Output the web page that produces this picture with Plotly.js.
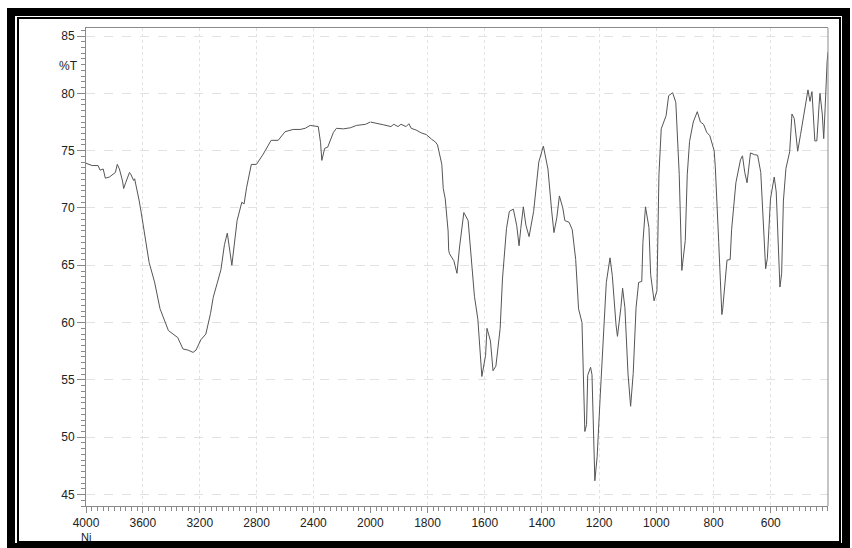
<!DOCTYPE html>
<html><head><meta charset="utf-8">
<script src="https://cdn.plot.ly/plotly-3.0.1.min.js"></script>
<style>
html,body{margin:0;padding:0;background:#fff;}
#wrap{position:relative;width:852px;height:548px;overflow:hidden;background:#fff;}
#chart{position:absolute;left:0;top:0;width:852px;height:548px;}
.frame{position:absolute;box-sizing:border-box;pointer-events:none;}
</style></head><body>
<div id="wrap"><div id="chart"></div>
<div class="frame" style="left:7px;top:8px;width:843px;height:540px;border:8px solid #000;border-bottom-width:5px;"></div>
<div class="frame" style="left:17px;top:17px;width:824px;height:526px;border:2px solid #000;"></div>
</div>
<script>
// High-wavenumber part (4000-2000 cm-1)
const wnHigh = [4000,3957,3915,3901,3879,3864,3835,3814,3793,3780,3765,3743,3735,3721,3694,3687,3665,3658,3643,3627,3611,3596,3580,3556,3518,3479,3420,3355,3318,3282,3247,3226,3192,3157,3124,3105,3078,3051,3026,3006,2974,2955,2937,2904,2888,2870,2837,2801,2753,2698,2648,2600,2543,2494,2458,2423,2366,2350,2341,2321,2300,2259,2238,2189,2139,2097,2033,2000];
const tHigh = [73.9,73.7,73.7,73.3,73.4,72.6,72.7,72.9,73.1,73.8,73.4,72.35,71.7,72.2,73.1,73.0,72.4,72.55,71.7,70.7,69.55,68.35,66.95,65.25,63.55,61.2,59.3,58.7,57.7,57.6,57.4,57.6,58.5,59.0,60.8,62.2,63.4,64.6,66.8,67.8,65.0,67.2,68.9,70.5,70.35,71.8,73.8,73.8,74.7,75.9,75.9,76.65,76.85,76.85,76.95,77.2,77.1,75.7,74.15,75.2,75.3,76.6,76.95,76.9,77.0,77.2,77.3,77.5];
// Low-wavenumber part (2000-400 cm-1)
const wnLow = [2000,1978,1953,1928,1918,1903,1893,1875,1865,1857,1840,1822,1804,1786,1772,1765,1750,1745,1738,1732,1728,1726,1723,1708,1697,1688,1676,1673,1658,1653,1636,1624,1610,1597,1592,1580,1571,1561,1546,1538,1524,1514,1500,1488,1480,1474,1465,1456,1445,1429,1420,1411,1395,1379,1366,1358,1348,1339,1327,1320,1305,1294,1282,1272,1260,1250,1244,1240,1230,1225,1215,1207,1196,1183,1175,1162,1154,1141,1136,1124,1118,1110,1099,1090,1081,1071,1062,1051,1047,1038,1026,1020,1008,998,991,983,966,957,943,932,920,911,899,892,884,871,857,846,835,824,813,798,794,782,771,768,756,753,742,737,722,706,699,691,683,677,671,657,646,635,629,618,612,601,588,581,568,562,556,547,534,526,518,506,496,490,480,470,463,456,446,439,431,428,420,415,410,406,403,400];
const tLow = [77.5,77.4,77.25,77.1,77.3,77.1,77.3,77.1,77.35,76.95,76.8,76.55,76.4,76.0,75.75,75.5,73.8,71.7,70.8,69.1,68.0,66.3,66.0,65.4,64.3,66.6,69.2,69.6,68.9,67.2,62.3,60.3,55.3,57.15,59.5,58.4,55.8,56.2,59.5,63.8,68.2,69.7,69.9,68.45,66.7,68.2,70.1,68.5,67.5,69.7,72.1,74.0,75.4,73.4,69.75,67.85,69.15,71.05,70.0,68.9,68.75,68.1,65.5,61.2,60.0,50.5,51.1,55.4,56.1,55.45,46.2,48.3,53.7,59.8,63.5,65.65,64.1,59.8,58.8,61.3,63.0,61.3,55.5,52.7,55.55,61.3,63.5,63.6,67.0,70.1,68.3,64.2,61.9,62.8,72.9,76.9,78.05,79.8,80.05,79.2,72.9,64.55,67.15,72.9,75.8,77.5,78.4,77.5,77.3,76.6,76.3,75.0,73.6,67.0,60.7,61.2,64.7,65.45,65.5,68.1,72.2,74.2,74.55,73.1,72.2,73.35,74.8,74.65,74.6,73.1,69.9,64.7,65.6,70.8,72.7,71.4,63.1,64.3,70.6,73.45,74.9,78.2,77.8,74.95,76.4,77.4,78.85,80.3,79.3,80.15,75.85,75.85,79.05,80.0,78.2,76.05,78.7,81.9,82.8,83.6];
const yTicks = [45,50,55,60,65,70,75,80,85];
const xTicksHigh = [4000,3600,3200,2800,2400];
const xTicksLow = [2000,1800,1600,1400,1200,1000,800,600];
const yLabel = '%T';
const xNote = 'Ni';

const lineStyle = {color:'#555555', width:1};
const traces = [
  {x: wnHigh, y: tHigh, xaxis:'x', yaxis:'y', type:'scatter', mode:'lines', line: lineStyle, hoverinfo:'skip', showlegend:false},
  {x: wnLow, y: tLow, xaxis:'x2', yaxis:'y', type:'scatter', mode:'lines', line: lineStyle, hoverinfo:'skip', showlegend:false}
];
const axCol = '#8a8a8a';
const gridCol = '#e2e2e2';
const fnt = {family:'"Liberation Sans", Arial, sans-serif', size:12, color:'#222'};
const split = 282/736;
function xax(dom, rng, vals, mdt){
  return {domain: dom, range: rng, anchor:'y', tickmode:'array', tickvals: vals, ticktext: vals.map(String),
    ticks:'outside', ticklen:6, tickcolor:axCol, showline:true, linecolor:axCol, linewidth:1, mirror:true,
    showgrid:true, gridcolor:gridCol, griddash:'dot', zeroline:false, tickfont: fnt,
    minor:{tickmode:'linear', tick0:0, dtick:mdt, ticks:'outside', ticklen:4, tickcolor:axCol, showgrid:false}};
}
const layout = {
  width:852, height:548, margin:{l:86, r:24, t:28, b:42},
  paper_bgcolor:'#fff', plot_bgcolor:'#fff', font: fnt,
  xaxis: xax([0, split], [4000, 2000], xTicksHigh, 40),
  xaxis2: xax([split, 1], [2000, 400], xTicksLow, 20),
  yaxis: {range:[44.0, 85.7], anchor:'x', tickmode:'array', tickvals: yTicks, ticktext: yTicks.map(String),
    ticks:'outside', ticklen:8, tickcolor:axCol, showline:true, linecolor:axCol, linewidth:1,
    showgrid:true, gridcolor:gridCol, griddash:'dash', zeroline:false, tickfont: fnt,
    minor:{tickmode:'linear', tick0:0, dtick:0.5, ticks:'outside', ticklen:4, tickcolor:axCol, showgrid:false}},
  shapes:[{type:'line', xref:'paper', yref:'paper', x0:1, x1:1, y0:0, y1:1, line:{color:axCol, width:1}}],
  annotations:[
    {text: yLabel, xref:'paper', yref:'y', x:0, y:82.4, xanchor:'right', yanchor:'middle', xshift:-6, showarrow:false, font: fnt},
    {text: xNote, xref:'x', yref:'paper', x:4000, y:0, xanchor:'center', yanchor:'top', yshift:-23, showarrow:false, font: {family: fnt.family, size:11, color:'#222'}}
  ]
};
Plotly.newPlot('chart', traces, layout, {staticPlot:true, displayModeBar:false});
</script>
</body></html>
